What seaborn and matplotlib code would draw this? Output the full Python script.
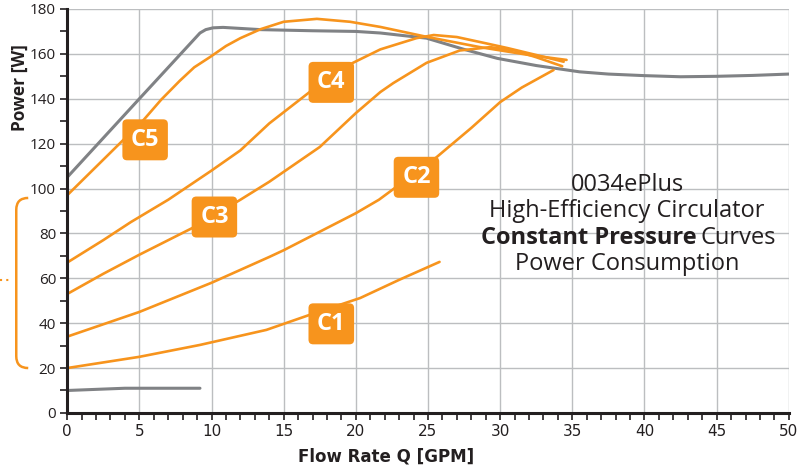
import numpy as np
import pandas as pd
import matplotlib.pyplot as plt
from matplotlib.path import Path
from matplotlib.patches import PathPatch
from matplotlib.ticker import MultipleLocator
import seaborn as sns

ORANGE = "#F7941D"
GRAY = "#808285"
DARK = "#231F20"

# max power curve (gray)
max_q = [0, 5, 9.2, 9.6, 10.1, 10.8, 13.4, 17, 20, 21.7, 24.9, 27.5, 29.8, 32.5, 35.5, 37.5, 40, 42.5, 45, 47.5, 50]
max_p = [105, 140, 169.3, 170.8, 171.6, 171.8, 170.8, 170.3, 170, 169.3, 167, 162, 158, 154.8, 152, 151, 150.3, 149.8, 150, 150.4, 151]

# min power curve (gray)
min_q = [0, 4, 9.2]
min_p = [10, 11, 11]

# constant pressure curves
c5_q = [0, 5.3, 6.5, 7.8, 8.8, 9.9, 11, 12, 13.4, 15, 17.3, 19.6, 21.7, 24.9, 28.6, 32, 34.6]
c5_p = [97, 130.6, 139.5, 148, 154, 158.6, 163.5, 167, 171, 174.3, 175.6, 174.3, 172, 167.6, 163, 159.5, 157.3]

c4_q = [0, 2.5, 4.4, 7, 10, 12, 14, 16.6, 18, 19.8, 21.7, 24.2, 25.4, 27, 28.8, 30.5, 32.5, 34.4]
c4_p = [67, 77, 85, 95, 108, 117, 129, 142, 149, 156, 162, 167, 168.4, 167.5, 165, 162.6, 159.5, 156.5]

c3_q = [0, 2.5, 5, 8.7, 12, 14, 17.5, 20, 21.7, 22.6, 24.9, 27.2, 29.3, 31, 32.5, 34.3]
c3_p = [53, 62, 70.5, 82.5, 95, 103, 118.5, 133.6, 143, 147, 156, 161.5, 163, 161.5, 158.5, 154.5]

c2_q = [0, 5, 10, 14, 15, 20, 21.6, 25.6, 28, 30, 31.5, 33.7]
c2_p = [34, 45, 58, 69.5, 72.5, 89, 95, 114, 127, 138.5, 145, 152.8]

c1_q = [0, 5, 9.2, 13.8, 16.8, 20.3, 23, 25.8]
c1_p = [20, 25, 30.3, 37, 43.7, 51.2, 59.3, 67.3]

curve_names = ["C1", "C2", "C3", "C4", "C5"]
label_q = [18.3, 24.2, 10.2, 18.3, 5.4]
label_p = [39.7, 105, 87.3, 147.3, 121.7]

sns.set_theme(style="ticks")
plt.rcParams["font.family"] = ["Open Sans", "DejaVu Sans"]

fig = plt.figure(figsize=(8, 4.73), dpi=100)
ax = fig.add_axes([0.084, 0.127, 0.902, 0.854])

# curves
sns.lineplot(x=max_q, y=max_p, ax=ax, color=GRAY, linewidth=2.2, sort=False, estimator=None)
sns.lineplot(x=min_q, y=min_p, ax=ax, color=GRAY, linewidth=2.2, sort=False, estimator=None)
curves = [(c1_q, c1_p), (c2_q, c2_p), (c3_q, c3_p), (c4_q, c4_p), (c5_q, c5_p)]
for q, p in curves:
    sns.lineplot(x=q, y=p, ax=ax, color=ORANGE, linewidth=1.9, sort=False, estimator=None)

ax.set_xlim(0, 50)
ax.set_ylim(0, 180)
ax.xaxis.set_major_locator(MultipleLocator(5))
ax.xaxis.set_minor_locator(MultipleLocator(1))
ax.yaxis.set_major_locator(MultipleLocator(20))
ax.yaxis.set_minor_locator(MultipleLocator(10))
ax.grid(True, which="major", color="#BCBEC0", linewidth=1.0)
ax.set_axisbelow(True)

for s in ["top", "right"]:
    ax.spines[s].set_visible(False)
for s in ["left", "bottom"]:
    ax.spines[s].set_linewidth(2.2)
    ax.spines[s].set_color(DARK)

ax.tick_params(axis="both", which="both", direction="out", length=5, width=1.2, color=DARK,
               left=True, bottom=True)
ax.tick_params(axis="both", which="major", labelsize=11, labelcolor=DARK, pad=3)
for lab in ax.get_xticklabels():
    lab.set_family(["Liberation Sans Narrow", "DejaVu Sans"])

for name, q, p in zip(curve_names, label_q, label_p):
    ax.text(q, p, name, ha="center", va="center", color="white", fontsize=17,
            fontweight="bold", zorder=10,
            bbox=dict(boxstyle="round,pad=0.36,rounding_size=0.2", fc=ORANGE, ec="none"))

# text block
tx = 38.8
fs = 17
ax.text(tx, 101.6, "0034ePlus", ha="center", va="center", fontsize=fs, color=DARK)
ax.text(tx, 90, "High-Efficiency Circulator", ha="center", va="center", fontsize=fs, color=DARK)
ax.text(43.6, 78, "Constant Pressure", ha="right", va="center", fontsize=fs,
        fontweight="bold", color=DARK)
ax.text(43.9, 78, "Curves", ha="left", va="center", fontsize=fs, color=DARK)
ax.text(tx, 66.4, "Power Consumption", ha="center", va="center", fontsize=fs, color=DARK)

ax.set_xlabel("Flow Rate Q [GPM]", fontsize=12, fontweight="bold", color=DARK,
              family=["Liberation Sans Narrow", "DejaVu Sans"])
ax.set_ylabel("Power [W]", fontsize=12.5, fontweight="bold", color=DARK)
ax.xaxis.set_label_coords(0.442, -0.085)
ax.yaxis.set_label_coords(-0.053, 0.805)

# bracket on the left
x0, x1 = -3.53, -2.7
yt, yb, r = 95.8, 20, 5.3
verts = [(x1, yt), (x0, yt), (x0, yt - r), (x0, yb + r), (x0, yb), (x1, yb)]
codes = [Path.MOVETO, Path.CURVE3, Path.CURVE3, Path.LINETO, Path.CURVE3, Path.CURVE3]
ax.add_patch(PathPatch(Path(verts, codes), fc="none", ec=ORANGE, lw=1.8, clip_on=False))
ax.plot([-4.64, -3.9], [59.3, 59.3], color=ORANGE, lw=1.5, ls=(0, (1, 2)), clip_on=False)

fig.savefig("out.png", dpi=100)
